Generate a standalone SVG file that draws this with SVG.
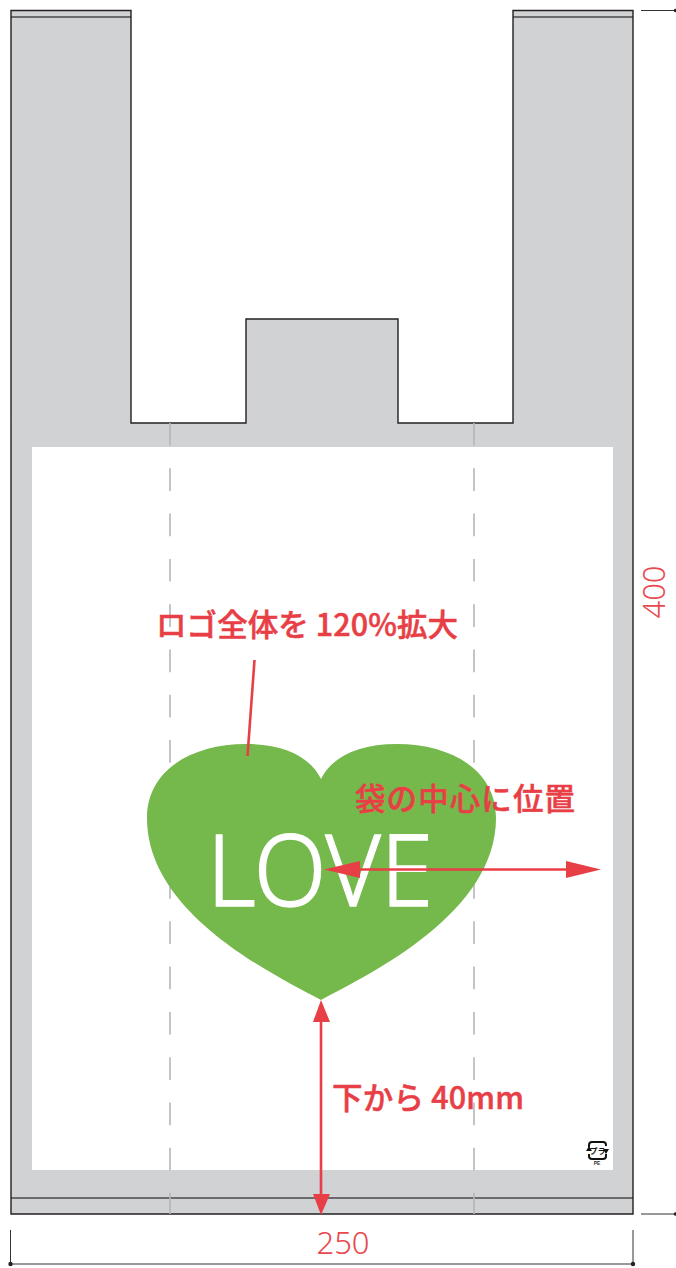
<svg xmlns="http://www.w3.org/2000/svg" width="676" height="1268" viewBox="0 0 676 1268">
<style>
.bag{fill:#d1d2d4}
.o{fill:none;stroke:#231f20;stroke-width:1.4}
.fold{fill:none;stroke:#4a4a4c;stroke-width:1.6}
.dash{fill:none;stroke:#b5b6b8;stroke-width:1.6;stroke-dasharray:22.7 22.6}
.dim{fill:none;stroke:#333;stroke-width:1}
.red{fill:none;stroke:#e83e45;stroke-width:2.6}
.ah{fill:#e83e45}
.dt{font-family:"Noto Sans","Liberation Sans",sans-serif;font-size:31px;fill:#e8484e;font-weight:300}
.lab{font-family:"Noto Sans CJK JP","Noto Sans",sans-serif;font-size:30.500px;font-weight:500;fill:#e83e45;stroke:#e83e45;stroke-width:.5}
</style>
<rect width="676" height="1268" fill="#fff"/>
<g id="bag">
<path class="bag" d="M11 10H131V423H246V319H398V423H513V10H633V1214H11Z"/>
<rect x="32" y="447" width="581" height="723" fill="#fff"/>
<path class="fold" d="M11 17H131M513 17H633M11 1198H633"/>
<path class="o" d="M11 10.500H131V423H246V319H398V423H513V10.500H633V1214H11Z"/>
</g>
<g id="fold-lines">
<path class="dash" d="M170 423V1214M474 423V1214"/>
</g>
<g id="logo">
<path d="M321 1000C268 972 147 912 147 818C147 770 192 744 246 744C285 744 310 757 321 779C332 757 358 744 397 744C451 744 496 770 496 818C496 912 374 972 321 1000Z" fill="#75b84b"/>
<text x="207" y="906" textLength="226" lengthAdjust="spacingAndGlyphs" font-family="'Noto Sans','Open Sans',sans-serif" font-size="100" font-weight="300" fill="#fff" stroke="#fff" stroke-width="1.500">LOVE</text>
</g>
<g id="recycle-mark">
<path d="M589 1147V1145Q589 1142 592 1142H603Q606 1142 606 1145V1146M606 1154V1156Q606 1159 603 1159H592Q589 1159 589 1156V1154" fill="none" stroke="#111" stroke-width="2"/>
<path d="M586 1151H592L589 1146ZM603 1149H609L606 1154Z" fill="#111"/>
<text x="597.500" y="1154" font-family="'Noto Sans CJK JP',sans-serif" font-size="8" font-weight="700" text-anchor="middle" fill="#111">プラ</text>
<text x="597" y="1165" font-family="'Liberation Sans',sans-serif" font-size="5" font-weight="700" text-anchor="middle" fill="#333">PE</text>
</g>
<g id="dimensions">
<path class="dim" d="M641 10.500H676M641 1214H676M10.500 1230V1264M633 1230V1264M10.500 1264H633"/>
<circle cx="10.500" cy="1264" r="2.200" fill="#222"/><circle cx="633" cy="1264" r="2.200" fill="#222"/>
<circle cx="675.500" cy="10.500" r="1.800" fill="#222"/><circle cx="675.500" cy="1214" r="1.800" fill="#222"/>
<text class="dt" x="343" y="1254" text-anchor="middle">250</text>
<text class="dt" transform="translate(665 592) rotate(-90)" text-anchor="middle">400</text>
</g>
<g id="connectors">
<path class="red" d="M254.500 660L247.500 756"/>
<path class="red" d="M350 869.500H575"/>
<path class="ah" d="M324 869.500L360 861V878Z"/>
<path class="ah" d="M601 869.500L566 861V878Z"/>
<path class="red" d="M321 1020V1195"/>
<path class="ah" d="M321 1000L313 1022H330Z"/>
<path class="ah" d="M321 1215L313 1194H330Z"/>
</g>
<g id="labels">
<text class="lab" x="156" y="636" textLength="302">ロゴ全体を 120%拡大</text>
<text class="lab" x="355" y="810" font-size="31" textLength="220">袋の中心に位置</text>
<text class="lab" x="332" y="1109" textLength="192">下から 40mm</text>
</g>
</svg>
